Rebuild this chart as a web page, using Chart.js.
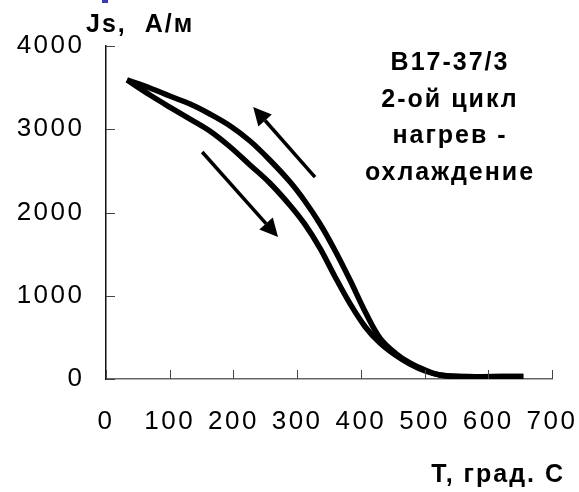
<!DOCTYPE html>
<html>
<head>
<meta charset="utf-8">
<script src="https://cdn.jsdelivr.net/npm/chart.js@4/dist/chart.umd.min.js"></script>
<style>
  html, body { margin: 0; padding: 0; background: #fff; overflow: hidden; }
  #box { width: 579px; height: 492px; }
</style>
</head>
<body>
<div id="box"><canvas id="js"></canvas></div>
<script>
// T, град. C  /  Js, A/м  -- two branches of the loop
const heatT  = [33, 69, 100, 132, 163, 195, 226, 257, 289, 312, 336, 359, 383, 407, 430, 454, 477, 501, 524, 556, 655];
const heatJs = [3592, 3411, 3267, 3123, 2979, 2787, 2571, 2355, 2085, 1860, 1570, 1235, 905, 625, 432, 288, 180, 96, 48, 30, 30];

const coolT  = [33, 69, 100, 132, 163, 195, 226, 257, 289, 312, 336, 359, 383, 407, 430, 454, 477, 501, 524, 556, 655];
const coolJs = [3592, 3495, 3399, 3303, 3183, 3039, 2859, 2631, 2366, 2138, 1862, 1550, 1189, 805, 492, 312, 192, 108, 48, 30, 30];

const xTicks = [0, 100, 200, 300, 400, 500, 600, 700];
const yTicks = [0, 1000, 2000, 3000, 4000];

// arrows: [tailT, tailJs, tipT, tipJs]
const arrowCool = [328, 2426, 231, 3267];
const arrowHeat = [151, 2727, 270, 1706];

const noteLines = ["В17-37/3", "2-ой цикл", "нагрев -", "охлаждение"];
const yTitle = "Js,  A/м";
const xTitle = "T, град. С";

const FONT = "'Liberation Sans', Arial, sans-serif";

function pts(xs, ys){
  return xs.map((x, i) => ({x: x, y: ys[i]}));
}

function arrow(ctx, c, a){
  const xs = c.scales.x, ys = c.scales.y;
  const x1 = xs.getPixelForValue(a[0]), y1 = ys.getPixelForValue(a[1]);
  const x2 = xs.getPixelForValue(a[2]), y2 = ys.getPixelForValue(a[3]);
  const ang = Math.atan2(y2 - y1, x2 - x1);
  const hl = 18, hw = 9;
  const bx = x2 - hl * Math.cos(ang), by = y2 - hl * Math.sin(ang);
  ctx.strokeStyle = "#000";
  ctx.lineWidth = 3.5;
  ctx.beginPath();
  ctx.moveTo(x1, y1);
  ctx.lineTo(bx, by);
  ctx.stroke();
  ctx.fillStyle = "#000";
  ctx.beginPath();
  ctx.moveTo(x2, y2);
  ctx.lineTo(bx + hw * Math.sin(ang), by - hw * Math.cos(ang));
  ctx.lineTo(bx - hw * Math.sin(ang), by + hw * Math.cos(ang));
  ctx.closePath();
  ctx.fill();
}

const extras = {
  id: "extras",
  beforeDraw(c){
    c.ctx.letterSpacing = "2.5px";
  },
  afterDraw(c){
    const ctx = c.ctx;
    const xs = c.scales.x, ys = c.scales.y;
    ctx.save();
    ctx.letterSpacing = "0px";

    // inside tick marks
    ctx.lineWidth = 1;
    ctx.strokeStyle = "#444";
    ctx.beginPath();
    xTicks.forEach(v => {
      const p = Math.round(xs.getPixelForValue(v)) + 0.5;
      ctx.moveTo(p, ys.bottom);
      ctx.lineTo(p, ys.bottom - 9);
    });
    yTicks.forEach(v => {
      const p = Math.round(ys.getPixelForValue(v)) + 0.5;
      ctx.moveTo(xs.left, p);
      ctx.lineTo(xs.left + 9, p);
    });
    ctx.stroke();

    arrow(ctx, c, arrowCool);
    arrow(ctx, c, arrowHeat);

    ctx.fillStyle = "#000";
    ctx.letterSpacing = "2px";
    ctx.font = "bold 25px " + FONT;
    ctx.textBaseline = "alphabetic";

    ctx.textAlign = "left";
    ctx.fillText(yTitle, 86, 32);

    ctx.textAlign = "right";
    ctx.fillText(xTitle, 565, 482);

    ctx.textAlign = "center";
    noteLines.forEach((s, i) => {
      ctx.fillText(s, 450, 70 + i * 36.7);
    });

    // blue fragment at the top edge
    ctx.fillStyle = "#3b3bb0";
    ctx.fillRect(102, 0, 6, 3);
    ctx.restore();
  }
};

new Chart(document.getElementById("js"), {
  type: "line",
  data: {
    datasets: [
      {
        label: "нагрев",
        data: pts(heatT, heatJs),
        borderColor: "#000",
        borderWidth: 5.5,
        pointRadius: 0,
        tension: 0.35,
        fill: false
      },
      {
        label: "охлаждение",
        data: pts(coolT, coolJs),
        borderColor: "#000",
        borderWidth: 5.5,
        pointRadius: 0,
        tension: 0.35,
        fill: false
      }
    ]
  },
  options: {
    responsive: true,
    maintainAspectRatio: false,
    animation: false,
    events: [],
    layout: { padding: { top: 46, right: 27, left: 0, bottom: 0 } },
    plugins: { legend: { display: false }, tooltip: { enabled: false } },
    scales: {
      x: {
        type: "linear",
        min: 0,
        max: 700,
        afterFit: s => { s.height = 113; s.paddingLeft = 0; s.paddingRight = 0; },
        afterBuildTicks: s => { s.ticks = xTicks.map(v => ({value: v})); },
        grid: { display: false, drawTicks: false },
        border: { display: true, color: "#666", width: 1.5 },
        ticks: {
          color: "#000",
          padding: 27,
          font: { family: FONT, size: 26 },
          maxRotation: 0,
          autoSkip: false,
          callback: v => String(v)
        }
      },
      y: {
        type: "linear",
        min: 0,
        max: 4000,
        afterFit: s => { s.width = 106; s.paddingTop = 0; s.paddingBottom = 0; },
        afterBuildTicks: s => { s.ticks = yTicks.map(v => ({value: v})); },
        grid: { display: false, drawTicks: false },
        border: { display: true, color: "#111", width: 1.5 },
        ticks: {
          color: "#000",
          padding: 21.5,
          font: { family: FONT, size: 26 },
          callback: v => String(v)
        }
      }
    }
  },
  plugins: [extras]
});
</script>
</body>
</html>
